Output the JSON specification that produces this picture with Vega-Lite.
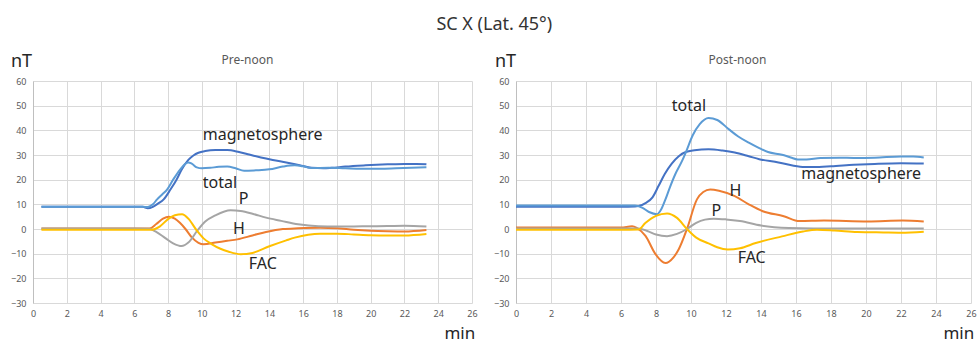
{
  "$schema": "https://vega.github.io/schema/vega-lite/v6.json",
  "padding": {"left": 10, "top": 16, "right": 0, "bottom": 0},
  "title": {"text": "SC X (Lat. 45°)", "fontSize": 18, "fontWeight": "normal", "color": "#333333", "font": "Noto Sans", "anchor": "middle", "frame": "bounds", "baseline": "bottom", "dx": 1, "offset": 0},
  "spacing": 44,
  "bounds": "flush",
  "config": {
    "view": {"stroke": null},
    "font": "Noto Sans",
    "axis": {"labelColor": "#595959", "labelFontSize": 9, "labelFont": "Noto Sans", "labelOverlap": false, "labelFlush": false, "ticks": false, "grid": true, "gridColor": "#D9D9D9", "gridWidth": 1, "titleFont": "Noto Sans", "titleFontSize": 18, "titleFontWeight": "normal", "titleColor": "#262626"},
    "axisX": {"domain": false, "labelPadding": 6, "titleAlign": "right", "titleBaseline": "alphabetic", "titleAngle": 0, "titleFontSize": 17},
    "axisY": {"domain": true, "domainColor": "#BFBFBF", "labelPadding": 7, "titleAngle": 0, "titleAlign": "center", "titleBaseline": "middle"}
  },
  "datasets": {
    "pre": [
      {"s": "magnetosphere", "t": 0.5, "v": 9}, {"s": "magnetosphere", "t": 2, "v": 9}, {"s": "magnetosphere", "t": 4, "v": 9}, {"s": "magnetosphere", "t": 6, "v": 9}, {"s": "magnetosphere", "t": 6.5, "v": 9}, {"s": "magnetosphere", "t": 6.8, "v": 8.4}, {"s": "magnetosphere", "t": 7.1, "v": 9}, {"s": "magnetosphere", "t": 7.4, "v": 10.3}, {"s": "magnetosphere", "t": 7.74, "v": 12}, {"s": "magnetosphere", "t": 8.14, "v": 16}, {"s": "magnetosphere", "t": 8.5, "v": 20}, {"s": "magnetosphere", "t": 8.8, "v": 24}, {"s": "magnetosphere", "t": 9.2, "v": 28}, {"s": "magnetosphere", "t": 9.5, "v": 29.8}, {"s": "magnetosphere", "t": 9.8, "v": 30.9}, {"s": "magnetosphere", "t": 10.2, "v": 31.6}, {"s": "magnetosphere", "t": 10.8, "v": 32}, {"s": "magnetosphere", "t": 11.5, "v": 32}, {"s": "magnetosphere", "t": 12.2, "v": 31.2}, {"s": "magnetosphere", "t": 12.8, "v": 30.2}, {"s": "magnetosphere", "t": 13.5, "v": 29}, {"s": "magnetosphere", "t": 14.2, "v": 28}, {"s": "magnetosphere", "t": 15, "v": 27}, {"s": "magnetosphere", "t": 15.8, "v": 25.9}, {"s": "magnetosphere", "t": 16.5, "v": 24.8}, {"s": "magnetosphere", "t": 17.2, "v": 24.6}, {"s": "magnetosphere", "t": 17.7, "v": 24.8}, {"s": "magnetosphere", "t": 18.5, "v": 25.3}, {"s": "magnetosphere", "t": 19.7, "v": 25.8}, {"s": "magnetosphere", "t": 21, "v": 26.2}, {"s": "magnetosphere", "t": 22, "v": 26.4}, {"s": "magnetosphere", "t": 22.7, "v": 26.4}, {"s": "magnetosphere", "t": 23.3, "v": 26.2},
      {"s": "total", "t": 0.5, "v": 9}, {"s": "total", "t": 2, "v": 9}, {"s": "total", "t": 4, "v": 9}, {"s": "total", "t": 6, "v": 9}, {"s": "total", "t": 6.5, "v": 9}, {"s": "total", "t": 6.8, "v": 8.9}, {"s": "total", "t": 7.1, "v": 10}, {"s": "total", "t": 7.35, "v": 12}, {"s": "total", "t": 7.65, "v": 14}, {"s": "total", "t": 7.94, "v": 16}, {"s": "total", "t": 8.3, "v": 20}, {"s": "total", "t": 8.7, "v": 24}, {"s": "total", "t": 9, "v": 26.3}, {"s": "total", "t": 9.2, "v": 27}, {"s": "total", "t": 9.4, "v": 26.5}, {"s": "total", "t": 9.7, "v": 25}, {"s": "total", "t": 10, "v": 24.6}, {"s": "total", "t": 10.5, "v": 24.8}, {"s": "total", "t": 11, "v": 25.2}, {"s": "total", "t": 11.5, "v": 25.3}, {"s": "total", "t": 12, "v": 24.6}, {"s": "total", "t": 12.5, "v": 23.6}, {"s": "total", "t": 13.2, "v": 23.8}, {"s": "total", "t": 14, "v": 24.2}, {"s": "total", "t": 14.8, "v": 25.3}, {"s": "total", "t": 15.5, "v": 25.8}, {"s": "total", "t": 16, "v": 25.4}, {"s": "total", "t": 16.5, "v": 24.7}, {"s": "total", "t": 17.5, "v": 24.8}, {"s": "total", "t": 18.5, "v": 24.6}, {"s": "total", "t": 20, "v": 24.4}, {"s": "total", "t": 21.5, "v": 24.6}, {"s": "total", "t": 23.3, "v": 25},
      {"s": "H", "t": 0.5, "v": 0.2}, {"s": "H", "t": 2, "v": 0.2}, {"s": "H", "t": 4, "v": 0.2}, {"s": "H", "t": 6, "v": 0.2}, {"s": "H", "t": 6.9, "v": 0.2}, {"s": "H", "t": 7.3, "v": 2}, {"s": "H", "t": 7.7, "v": 4.2}, {"s": "H", "t": 8.04, "v": 5}, {"s": "H", "t": 8.4, "v": 4.2}, {"s": "H", "t": 8.7, "v": 2.5}, {"s": "H", "t": 9.03, "v": 0}, {"s": "H", "t": 9.42, "v": -3.5}, {"s": "H", "t": 9.8, "v": -5.6}, {"s": "H", "t": 10.1, "v": -6.2}, {"s": "H", "t": 10.8, "v": -5.5}, {"s": "H", "t": 11.5, "v": -4.8}, {"s": "H", "t": 12.1, "v": -4.2}, {"s": "H", "t": 13, "v": -2.6}, {"s": "H", "t": 13.8, "v": -1.2}, {"s": "H", "t": 14.8, "v": 0}, {"s": "H", "t": 15.7, "v": 0.3}, {"s": "H", "t": 17, "v": 0.5}, {"s": "H", "t": 18, "v": 0.3}, {"s": "H", "t": 19, "v": -0.3}, {"s": "H", "t": 20, "v": -0.7}, {"s": "H", "t": 21, "v": -0.9}, {"s": "H", "t": 22, "v": -1}, {"s": "H", "t": 23.3, "v": -0.4},
      {"s": "P", "t": 0.5, "v": 0.2}, {"s": "P", "t": 2, "v": 0.2}, {"s": "P", "t": 4, "v": 0.2}, {"s": "P", "t": 6, "v": 0.2}, {"s": "P", "t": 6.9, "v": 0.1}, {"s": "P", "t": 7.25, "v": -1}, {"s": "P", "t": 7.84, "v": -3.7}, {"s": "P", "t": 8.3, "v": -5.8}, {"s": "P", "t": 8.8, "v": -6.9}, {"s": "P", "t": 9.2, "v": -5.5}, {"s": "P", "t": 9.72, "v": -0.8}, {"s": "P", "t": 10.2, "v": 3}, {"s": "P", "t": 10.8, "v": 5.5}, {"s": "P", "t": 11.7, "v": 7.6}, {"s": "P", "t": 12.3, "v": 7.3}, {"s": "P", "t": 13, "v": 6.2}, {"s": "P", "t": 13.8, "v": 4.6}, {"s": "P", "t": 14.7, "v": 3.3}, {"s": "P", "t": 15.7, "v": 1.9}, {"s": "P", "t": 16.9, "v": 1.1}, {"s": "P", "t": 18, "v": 1}, {"s": "P", "t": 19.5, "v": 1.1}, {"s": "P", "t": 21, "v": 1.2}, {"s": "P", "t": 22, "v": 1.3}, {"s": "P", "t": 23.3, "v": 1},
      {"s": "FAC", "t": 0.5, "v": -0.3}, {"s": "FAC", "t": 2, "v": -0.3}, {"s": "FAC", "t": 4, "v": -0.3}, {"s": "FAC", "t": 6, "v": -0.3}, {"s": "FAC", "t": 7, "v": -0.3}, {"s": "FAC", "t": 7.5, "v": 1}, {"s": "FAC", "t": 8, "v": 4}, {"s": "FAC", "t": 8.4, "v": 5.6}, {"s": "FAC", "t": 8.83, "v": 6}, {"s": "FAC", "t": 9.2, "v": 4.2}, {"s": "FAC", "t": 9.72, "v": -0.8}, {"s": "FAC", "t": 10.1, "v": -3.8}, {"s": "FAC", "t": 10.6, "v": -6.2}, {"s": "FAC", "t": 11.1, "v": -8}, {"s": "FAC", "t": 11.6, "v": -9.2}, {"s": "FAC", "t": 12.3, "v": -10.2}, {"s": "FAC", "t": 13, "v": -9.7}, {"s": "FAC", "t": 14, "v": -7}, {"s": "FAC", "t": 15, "v": -4.6}, {"s": "FAC", "t": 15.5, "v": -3.5}, {"s": "FAC", "t": 16.3, "v": -2.3}, {"s": "FAC", "t": 17, "v": -1.9}, {"s": "FAC", "t": 18, "v": -1.9}, {"s": "FAC", "t": 19, "v": -2.2}, {"s": "FAC", "t": 20, "v": -2.5}, {"s": "FAC", "t": 21, "v": -2.6}, {"s": "FAC", "t": 22, "v": -2.6}, {"s": "FAC", "t": 23.3, "v": -2}
    ],
    "post": [
      {"s": "magnetosphere", "t": 0, "v": 9}, {"s": "magnetosphere", "t": 2, "v": 9}, {"s": "magnetosphere", "t": 4, "v": 9}, {"s": "magnetosphere", "t": 6, "v": 9}, {"s": "magnetosphere", "t": 6.8, "v": 9.1}, {"s": "magnetosphere", "t": 7, "v": 9.3}, {"s": "magnetosphere", "t": 7.4, "v": 10.5}, {"s": "magnetosphere", "t": 7.8, "v": 12.8}, {"s": "magnetosphere", "t": 8.15, "v": 17.5}, {"s": "magnetosphere", "t": 8.5, "v": 22.3}, {"s": "magnetosphere", "t": 8.9, "v": 26.5}, {"s": "magnetosphere", "t": 9.3, "v": 29.5}, {"s": "magnetosphere", "t": 9.7, "v": 31.2}, {"s": "magnetosphere", "t": 10.2, "v": 31.9}, {"s": "magnetosphere", "t": 11, "v": 32.3}, {"s": "magnetosphere", "t": 11.8, "v": 31.8}, {"s": "magnetosphere", "t": 12.5, "v": 31}, {"s": "magnetosphere", "t": 13.3, "v": 29.5}, {"s": "magnetosphere", "t": 13.9, "v": 28.3}, {"s": "magnetosphere", "t": 15, "v": 27}, {"s": "magnetosphere", "t": 15.8, "v": 25.7}, {"s": "magnetosphere", "t": 16.5, "v": 25.1}, {"s": "magnetosphere", "t": 17, "v": 25.1}, {"s": "magnetosphere", "t": 18, "v": 25.4}, {"s": "magnetosphere", "t": 19.3, "v": 26}, {"s": "magnetosphere", "t": 20.5, "v": 26.4}, {"s": "magnetosphere", "t": 22, "v": 26.7}, {"s": "magnetosphere", "t": 23.3, "v": 26.6},
      {"s": "total", "t": 0, "v": 9.5}, {"s": "total", "t": 2, "v": 9.5}, {"s": "total", "t": 4, "v": 9.5}, {"s": "total", "t": 6, "v": 9.5}, {"s": "total", "t": 6.8, "v": 9.5}, {"s": "total", "t": 7.2, "v": 8.7}, {"s": "total", "t": 7.6, "v": 6.9}, {"s": "total", "t": 8.06, "v": 6}, {"s": "total", "t": 8.3, "v": 8}, {"s": "total", "t": 8.54, "v": 12}, {"s": "total", "t": 8.8, "v": 17}, {"s": "total", "t": 9.1, "v": 22.2}, {"s": "total", "t": 9.49, "v": 27.6}, {"s": "total", "t": 9.7, "v": 31}, {"s": "total", "t": 10.1, "v": 38}, {"s": "total", "t": 10.5, "v": 42.5}, {"s": "total", "t": 11, "v": 45}, {"s": "total", "t": 11.5, "v": 44.2}, {"s": "total", "t": 12.15, "v": 40.5}, {"s": "total", "t": 12.7, "v": 37.5}, {"s": "total", "t": 13.3, "v": 35}, {"s": "total", "t": 13.9, "v": 32.8}, {"s": "total", "t": 14.4, "v": 31.2}, {"s": "total", "t": 15.2, "v": 30.1}, {"s": "total", "t": 15.7, "v": 29}, {"s": "total", "t": 16.1, "v": 28.2}, {"s": "total", "t": 16.6, "v": 28.2}, {"s": "total", "t": 17.4, "v": 28.8}, {"s": "total", "t": 18.5, "v": 28.9}, {"s": "total", "t": 19.3, "v": 28.8}, {"s": "total", "t": 20.5, "v": 28.9}, {"s": "total", "t": 22, "v": 29.4}, {"s": "total", "t": 22.7, "v": 29.4}, {"s": "total", "t": 23.3, "v": 29},
      {"s": "H", "t": 0, "v": 0.6}, {"s": "H", "t": 2, "v": 0.6}, {"s": "H", "t": 4, "v": 0.6}, {"s": "H", "t": 6, "v": 0.6}, {"s": "H", "t": 6.63, "v": 1.1}, {"s": "H", "t": 6.9, "v": 0.5}, {"s": "H", "t": 7.4, "v": -2.8}, {"s": "H", "t": 7.97, "v": -10.2}, {"s": "H", "t": 8.54, "v": -13.8}, {"s": "H", "t": 9, "v": -11.5}, {"s": "H", "t": 9.3, "v": -8.2}, {"s": "H", "t": 9.77, "v": 0}, {"s": "H", "t": 10.34, "v": 12}, {"s": "H", "t": 10.7, "v": 15}, {"s": "H", "t": 11.1, "v": 16}, {"s": "H", "t": 11.6, "v": 15.5}, {"s": "H", "t": 12.5, "v": 13.3}, {"s": "H", "t": 13.3, "v": 10}, {"s": "H", "t": 14.1, "v": 7.2}, {"s": "H", "t": 15.3, "v": 5.2}, {"s": "H", "t": 16.2, "v": 3.2}, {"s": "H", "t": 17.6, "v": 3.4}, {"s": "H", "t": 20.1, "v": 3}, {"s": "H", "t": 22.1, "v": 3.4}, {"s": "H", "t": 23.3, "v": 3},
      {"s": "P", "t": 0, "v": 0.2}, {"s": "P", "t": 2, "v": 0.2}, {"s": "P", "t": 4, "v": 0.2}, {"s": "P", "t": 6, "v": 0.2}, {"s": "P", "t": 7, "v": 0.2}, {"s": "P", "t": 7.5, "v": -0.8}, {"s": "P", "t": 8, "v": -2.2}, {"s": "P", "t": 8.63, "v": -2.9}, {"s": "P", "t": 9.2, "v": -2}, {"s": "P", "t": 9.77, "v": 0}, {"s": "P", "t": 10.3, "v": 2.5}, {"s": "P", "t": 10.8, "v": 3.8}, {"s": "P", "t": 11.3, "v": 4.2}, {"s": "P", "t": 12, "v": 3.9}, {"s": "P", "t": 12.8, "v": 3.2}, {"s": "P", "t": 14, "v": 1.4}, {"s": "P", "t": 15.6, "v": 0.4}, {"s": "P", "t": 17, "v": 0.2}, {"s": "P", "t": 20, "v": 0.2}, {"s": "P", "t": 23.3, "v": 0.2},
      {"s": "FAC", "t": 0, "v": -0.3}, {"s": "FAC", "t": 2, "v": -0.3}, {"s": "FAC", "t": 4, "v": -0.3}, {"s": "FAC", "t": 6, "v": -0.3}, {"s": "FAC", "t": 7, "v": -0.2}, {"s": "FAC", "t": 7.39, "v": 2.4}, {"s": "FAC", "t": 8, "v": 5.3}, {"s": "FAC", "t": 8.63, "v": 6.3}, {"s": "FAC", "t": 9.2, "v": 4.5}, {"s": "FAC", "t": 9.77, "v": 0}, {"s": "FAC", "t": 10.3, "v": -3.5}, {"s": "FAC", "t": 11, "v": -5.8}, {"s": "FAC", "t": 11.5, "v": -7.4}, {"s": "FAC", "t": 12.1, "v": -8.3}, {"s": "FAC", "t": 12.8, "v": -7.8}, {"s": "FAC", "t": 13.7, "v": -5.7}, {"s": "FAC", "t": 15.2, "v": -3}, {"s": "FAC", "t": 16.4, "v": -1}, {"s": "FAC", "t": 17.2, "v": -0.3}, {"s": "FAC", "t": 18.2, "v": -0.6}, {"s": "FAC", "t": 19.5, "v": -1.2}, {"s": "FAC", "t": 21, "v": -1.4}, {"s": "FAC", "t": 22, "v": -1.5}, {"s": "FAC", "t": 23.3, "v": -1.1}
    ],
    "prelabels": [
      {"t": 10.05, "v": 38, "label": "magnetosphere"}, {"t": 10.05, "v": 18.8, "label": "total"}, {"t": 12.19, "v": 12.3, "label": "P"}, {"t": 11.85, "v": -0.1, "label": "H"}, {"t": 12.78, "v": -14.3, "label": "FAC"}
    ],
    "postlabels": [
      {"t": 8.9, "v": 49.9, "label": "total"}, {"t": 16.3, "v": 22.5, "label": "magnetosphere"}, {"t": 12.2, "v": 15.4, "label": "H"}, {"t": 11.17, "v": 7.3, "label": "P"}, {"t": 12.67, "v": -11.9, "label": "FAC"}
    ]
  },
  "hconcat": [
    {
      "width": 439, "height": 222,
      "title": {"text": "Pre-noon", "fontSize": 12, "fontWeight": "normal", "color": "#595959", "anchor": "middle", "frame": "group", "baseline": "bottom", "dx": -5, "offset": -27},
      "layer": [
        {"mark": {"type": "rule", "color": "#BFBFBF", "strokeWidth": 1}, "encoding": {"y": {"datum": 0, "type": "quantitative", "scale": {"domain": [-30, 60], "nice": false}}}},
        {"data": {"name": "pre"}, "mark": {"type": "line", "strokeWidth": 2, "interpolate": "monotone"},
         "encoding": {
           "x": {"field": "t", "type": "quantitative", "scale": {"domain": [0, 26], "nice": false}, "axis": {"values": [0,2,4,6,8,10,12,14,16,18,20,22,24,26], "tickCount": 30, "labelOverlap": false, "labelFlush": false, "title": "min", "titleX": 441.7, "titleY": 35}},
           "y": {"field": "v", "type": "quantitative", "scale": {"domain": [-30, 60], "nice": false}, "axis": {"values": [-30,-20,-10,0,10,20,30,40,50,60], "tickCount": 30, "labelOverlap": false, "title": "nT", "titleX": -12, "titleY": -20}},
           "color": {"field": "s", "type": "nominal", "scale": {"domain": ["magnetosphere", "total", "H", "P", "FAC"], "range": ["#4472C4", "#5B9BD5", "#ED7D31", "#A5A5A5", "#FFC000"]}, "legend": null},
           "detail": {"field": "s"}
         }},
        {"data": {"name": "prelabels"}, "mark": {"type": "text", "align": "left", "baseline": "middle", "fontSize": 16, "font": "Noto Sans", "color": "#262626"},
         "encoding": {"x": {"field": "t", "type": "quantitative"}, "y": {"field": "v", "type": "quantitative"}, "text": {"field": "label"}}}
      ]
    },
    {
      "width": 455, "height": 222,
      "title": {"text": "Post-noon", "fontSize": 12, "fontWeight": "normal", "color": "#595959", "anchor": "middle", "frame": "group", "baseline": "bottom", "dx": -6, "offset": -27},
      "layer": [
        {"mark": {"type": "rule", "color": "#BFBFBF", "strokeWidth": 1}, "encoding": {"y": {"datum": 0, "type": "quantitative", "scale": {"domain": [-30, 60], "nice": false}}}},
        {"data": {"name": "post"}, "mark": {"type": "line", "strokeWidth": 2, "interpolate": "monotone"},
         "encoding": {
           "x": {"field": "t", "type": "quantitative", "scale": {"domain": [0, 26], "nice": false}, "axis": {"values": [0,2,4,6,8,10,12,14,16,18,20,22,24,26], "tickCount": 30, "labelOverlap": false, "labelFlush": false, "title": "min", "titleX": 457.7, "titleY": 35}},
           "y": {"field": "v", "type": "quantitative", "scale": {"domain": [-30, 60], "nice": false}, "axis": {"values": [-30,-20,-10,0,10,20,30,40,50,60], "tickCount": 30, "labelOverlap": false, "title": "nT", "titleX": -11, "titleY": -20}},
           "color": {"field": "s", "type": "nominal", "scale": {"domain": ["magnetosphere", "total", "H", "P", "FAC"], "range": ["#4472C4", "#5B9BD5", "#ED7D31", "#A5A5A5", "#FFC000"]}, "legend": null},
           "detail": {"field": "s"}
         }},
        {"data": {"name": "postlabels"}, "mark": {"type": "text", "align": "left", "baseline": "middle", "fontSize": 16, "font": "Noto Sans", "color": "#262626"},
         "encoding": {"x": {"field": "t", "type": "quantitative"}, "y": {"field": "v", "type": "quantitative"}, "text": {"field": "label"}}}
      ]
    }
  ]
}
